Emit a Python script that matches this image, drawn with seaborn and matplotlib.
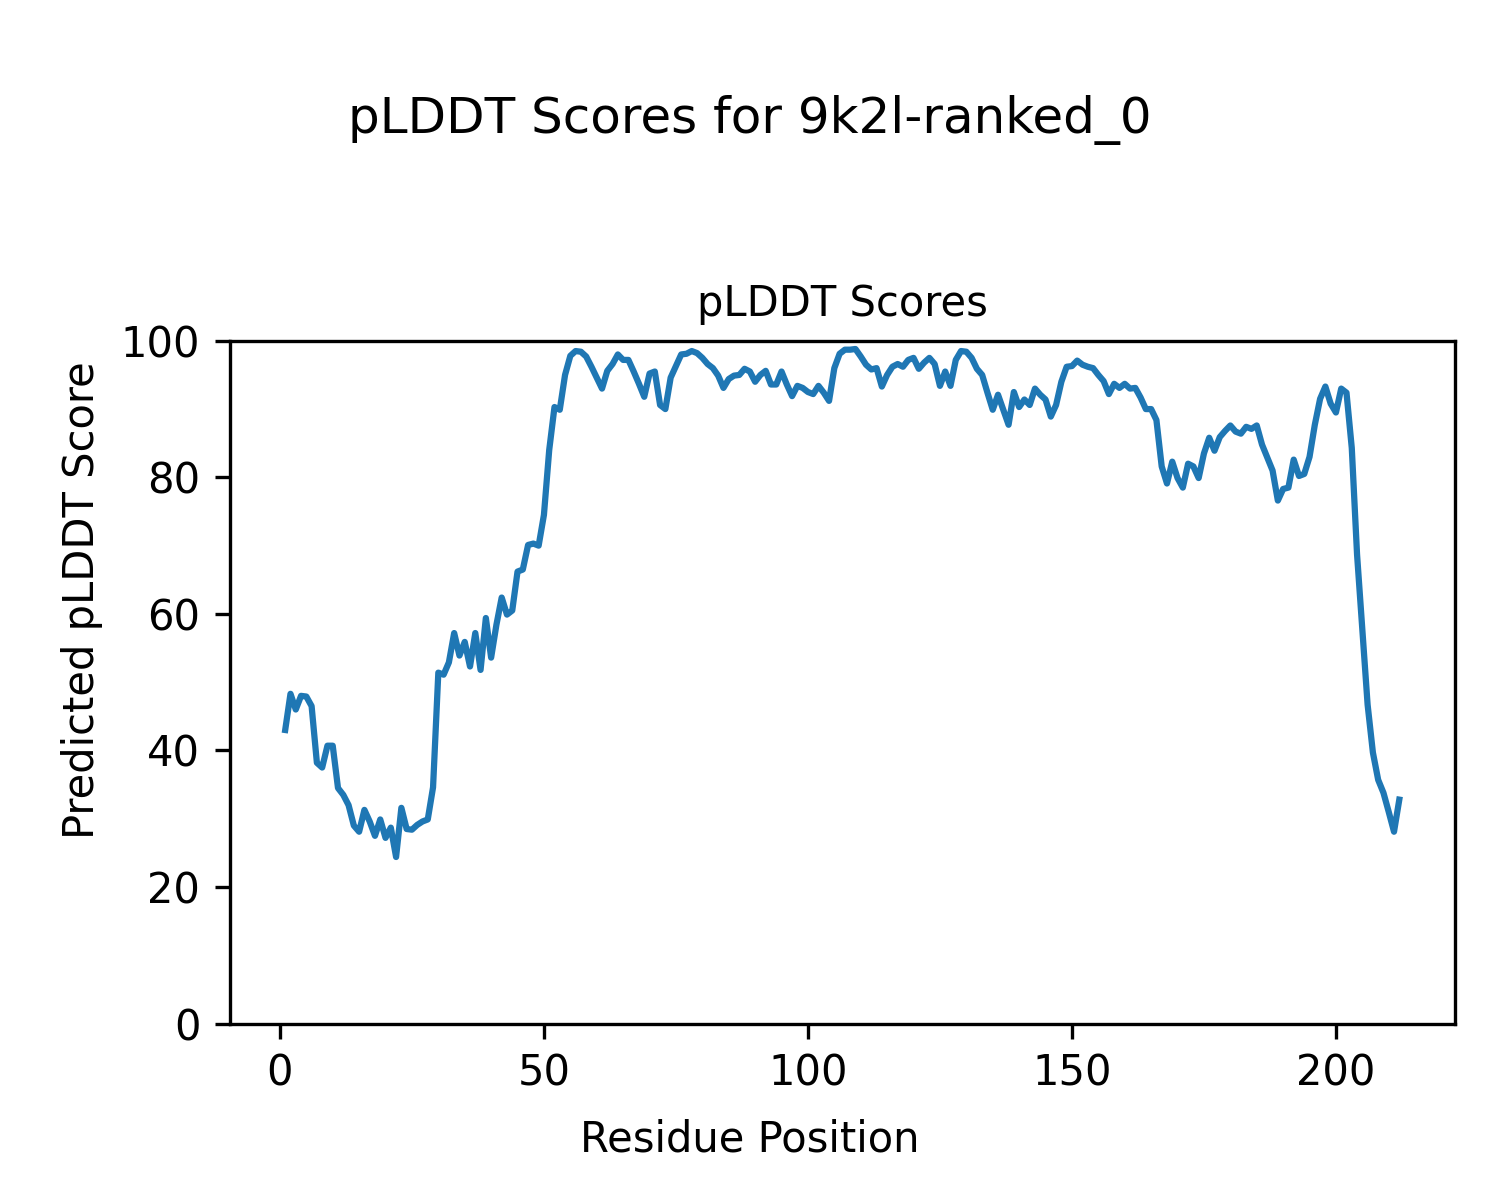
import numpy as np
import pandas as pd
import matplotlib
matplotlib.use("Agg")
import matplotlib.pyplot as plt
import seaborn as sns

residues = list(range(1, 213))
plddt = [
    43.0, 48.3, 46.0, 48.0, 47.9, 46.5, 38.2, 37.5, 40.7, 40.7,
    34.5, 33.5, 32.0, 29.0, 28.1, 31.3, 29.6, 27.5, 29.9, 27.2,
    28.7, 24.4, 31.6, 28.5, 28.4, 29.1, 29.6, 29.9, 34.6, 51.4,
    51.1, 52.9, 57.2, 53.9, 55.9, 52.3, 57.2, 51.8, 59.4, 53.6,
    58.4, 62.4, 59.9, 60.5, 66.2, 66.5, 70.1, 70.3, 70.0, 74.5,
    84.0, 90.3, 89.9, 95.0, 97.8, 98.5, 98.4, 97.7, 96.2, 94.6,
    93.0, 95.6, 96.6, 98.0, 97.2, 97.2, 95.5, 93.7, 91.8, 95.2,
    95.5, 90.6, 90.0, 94.6, 96.3, 98.0, 98.1, 98.5, 98.2, 97.5,
    96.6, 96.0, 94.9, 93.1, 94.4, 94.9, 95.0, 95.9, 95.5, 94.0,
    95.0, 95.6, 93.6, 93.6, 95.5, 93.6, 91.9, 93.4, 93.1, 92.5,
    92.2, 93.4, 92.4, 91.2, 96.0, 98.1, 98.7, 98.7, 98.8, 97.7,
    96.5, 95.8, 96.0, 93.3, 95.0, 96.2, 96.6, 96.2, 97.2, 97.5,
    95.9, 96.8, 97.5, 96.6, 93.4, 95.5, 93.4, 97.2, 98.5, 98.4,
    97.5, 95.9, 95.0, 92.4, 89.9, 92.1, 89.9, 87.7, 92.5, 90.3,
    91.4, 90.6, 93.0, 92.1, 91.4, 88.9, 90.6, 94.0, 96.2, 96.3,
    97.1, 96.5, 96.2, 96.0, 95.0, 94.1, 92.2, 93.7, 93.1, 93.7,
    93.0, 93.1, 91.7, 90.0, 90.0, 88.4, 81.6, 79.1, 82.3, 79.9,
    78.5, 82.0, 81.6, 79.9, 83.5, 85.8, 83.9, 85.9, 86.8, 87.6,
    86.7, 86.4, 87.4, 87.1, 87.6, 84.8, 82.9, 81.0, 76.6, 78.3,
    78.5, 82.6, 80.2, 80.5, 83.0, 87.7, 91.5, 93.3, 90.8, 89.5,
    93.0, 92.4, 84.3, 68.7, 57.7, 46.7, 39.7, 35.7, 33.8, 31.0,
    28.1, 32.8,
]

df = pd.DataFrame({"Residue Position": residues, "pLDDT": plddt})

fig = plt.figure(figsize=(5, 4), dpi=300)
ax = fig.add_axes([0.153, 0.147, 0.817, 0.569])
sns.lineplot(data=df, x="Residue Position", y="pLDDT", ax=ax, color="#1f77b4", linewidth=1.5)
ax.set_ylim(0, 100)
ax.set_xlabel("")
ax.set_ylabel("")
ax.set_title("pLDDT Scores", fontsize=10)
fig.suptitle("pLDDT Scores for 9k2l-ranked_0", fontsize=12, y=0.9, va="center")
fig.supxlabel("Residue Position", fontsize=10, x=0.5, y=0.05, va="center")
fig.supylabel("Predicted pLDDT Score", fontsize=10, x=0.0545, y=0.5, ha="center", va="center")
fig.savefig("out.png", dpi=300)
